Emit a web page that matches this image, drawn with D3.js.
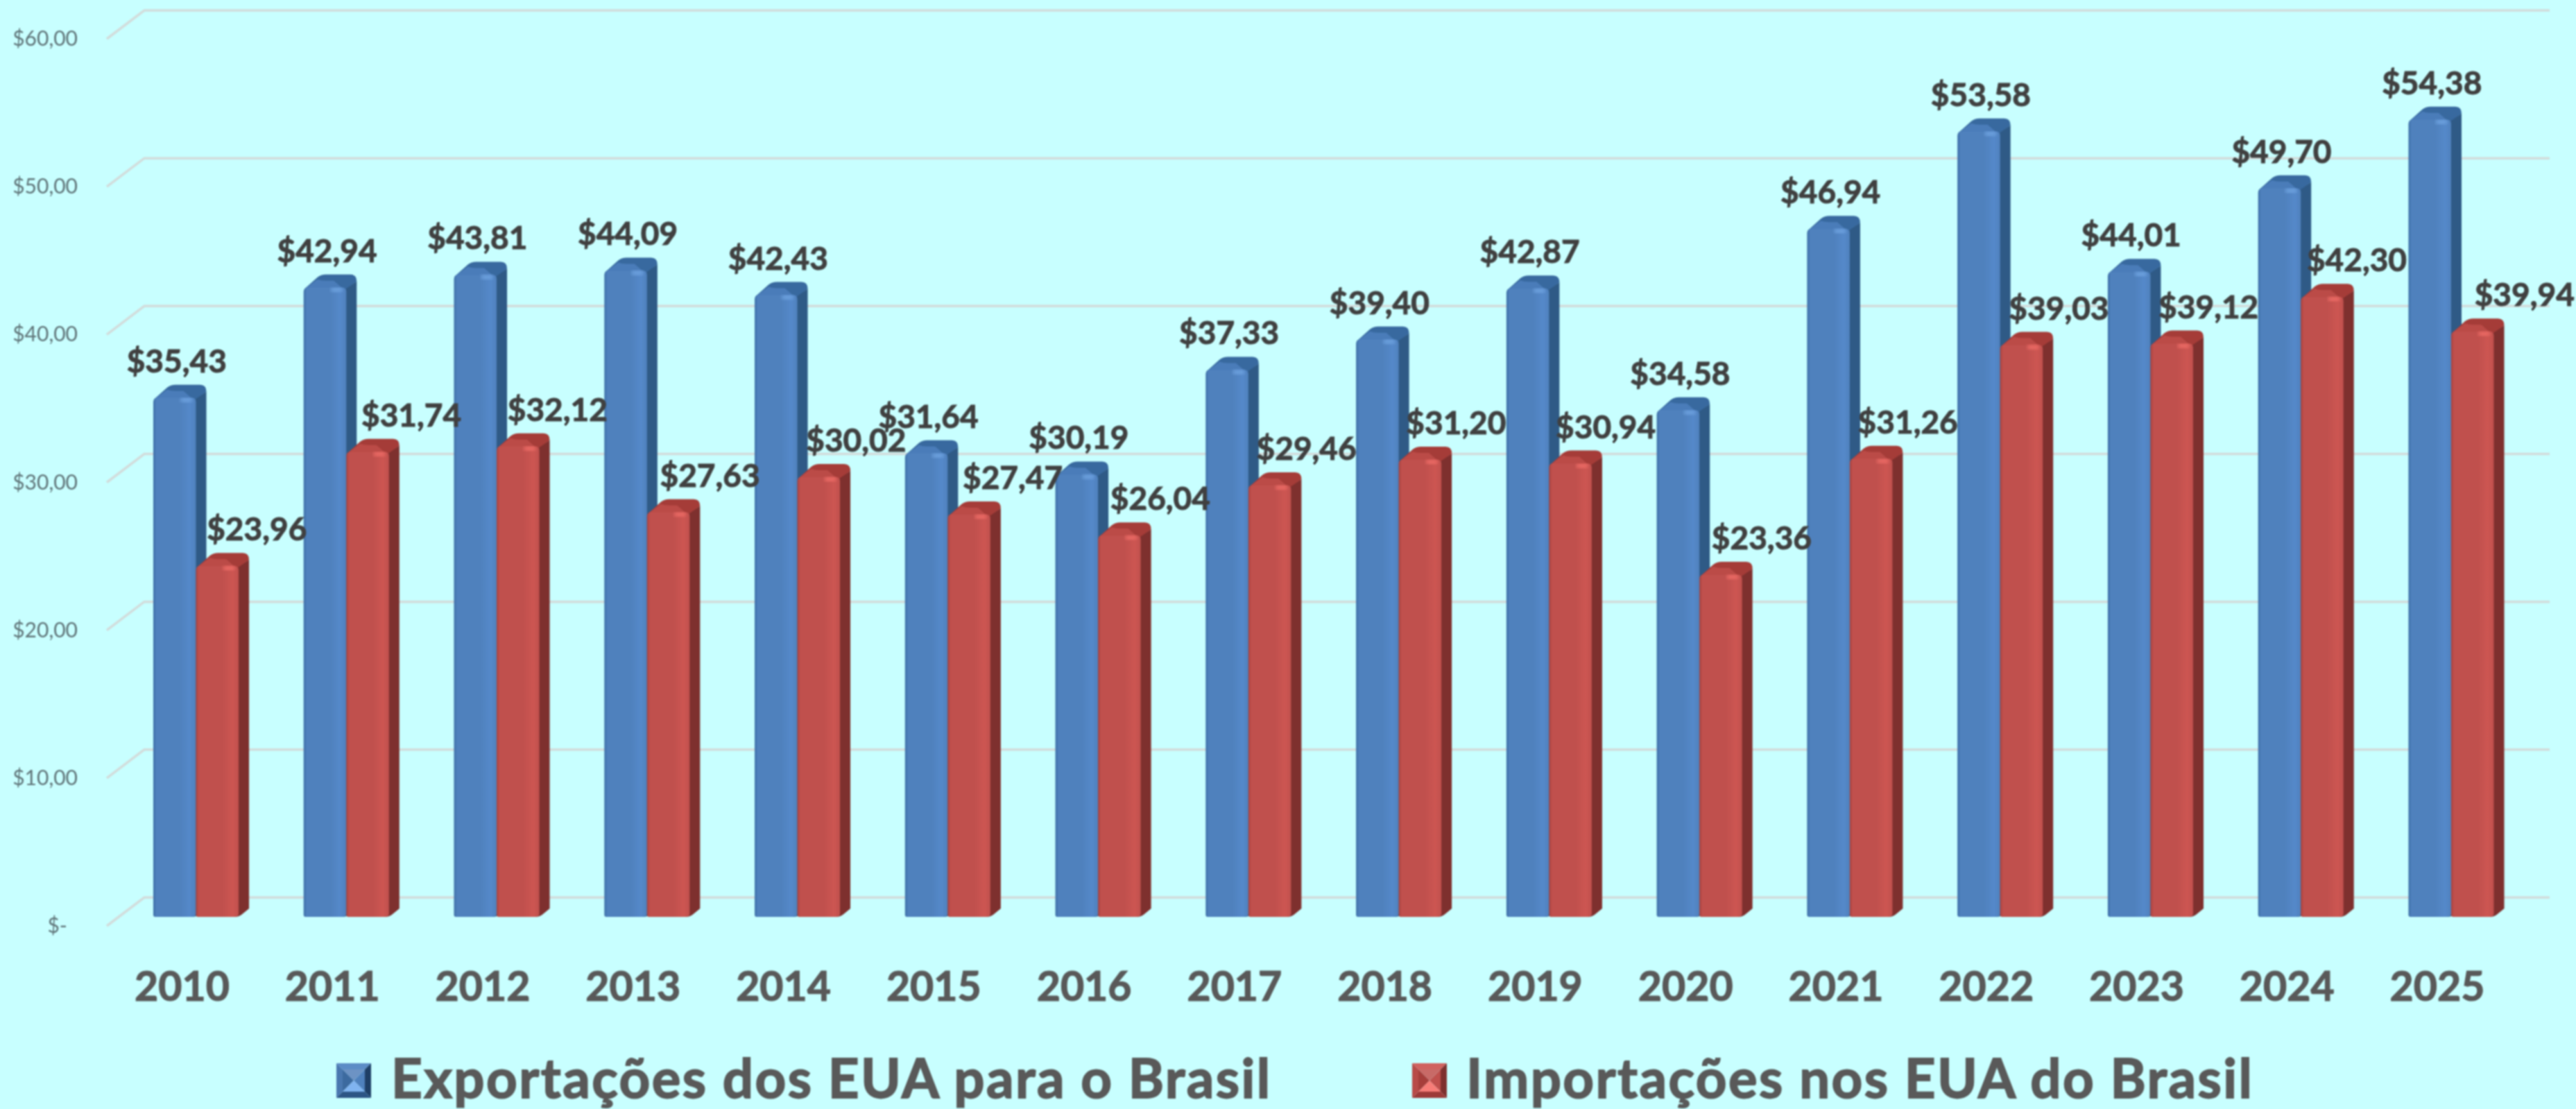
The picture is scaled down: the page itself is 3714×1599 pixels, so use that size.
<!DOCTYPE html>
<html>
<head>
<meta charset="utf-8">
<script src="https://cdn.jsdelivr.net/npm/d3@7"></script>
<style>
  html, body { margin: 0; padding: 0; background: #c8ffff; }
  svg { display: block; font-family: Lato, "Open Sans", sans-serif; filter: blur(0.9px); }
</style>
</head>
<body>
<div id="app"></div>
<script>
const years = ["2010","2011","2012","2013","2014","2015","2016","2017","2018","2019","2020","2021","2022","2023","2024","2025"];
const exportsBR = [35.43,42.94,43.81,44.09,42.43,31.64,30.19,37.33,39.40,42.87,34.58,46.94,53.58,44.01,49.70,54.38];
const importsBR = [23.96,31.74,32.12,27.63,30.02,27.47,26.04,29.46,31.20,30.94,23.36,31.26,39.03,39.12,42.30,39.94];
const seriesNames = ["Exportações dos EUA para o Brasil", "Importações nos EUA do Brasil"];
const yTicks = [0,10,20,30,40,50,60];

// labels of the red bars were pushed right by hand in the original
const redLabelShift = [57,63,57,60,54,63,59,53,52,51,59,53,54,53,50,75];

const width = 3714, height = 1599;
const depth = { x: 54, y: 41 };   // wall offset of the gridlines
const barDepth = { x: 15, y: 18 };

const xScale = d3.scaleBand().domain(years).range([221, 3595.5]).paddingInner(0.4324).paddingOuter(0);
const xInner = d3.scaleBand().domain([0, 1]).range([0, xScale.bandwidth()]);
const yScale = d3.scaleLinear().domain([0, 60]).range([1335, 56]);
const yBar = d3.scaleLinear().domain([0, 60]).range([1322, 53]);

const fmt = (v) => "$" + v.toFixed(2).replace(".", ",");

const palette = [
  { edge: "#3c6ea6", face: "#4f81bd", light: "#5589ca", side: "#2f5a86", top: "#4a7cb9", topBack: "#38699f", shine: "#6ea3e0" },
  { edge: "#a8423f", face: "#c0504d", light: "#cd5652", side: "#7e302e", top: "#bb4b47", topBack: "#a53c38", shine: "#ee6c66" },
];

const svg = d3.select("#app").append("svg").attr("width", width).attr("height", height);
svg.append("rect").attr("width", width).attr("height", height).attr("fill", "#c8ffff");

const defs = svg.append("defs");
palette.forEach((p, i) => {
  const grad = defs.append("linearGradient").attr("id", "face" + i);
  [[0, p.edge], [0.07, p.face], [0.62, p.face], [0.86, p.light], [1, p.face]].forEach(([o, c]) =>
    grad.append("stop").attr("offset", o).attr("stop-color", c));
});
defs.append("filter").attr("id", "soft").append("feGaussianBlur").attr("stdDeviation", 2.5);

// gridlines with the little slant on the left wall
svg.append("g").selectAll("path").data(yTicks).join("path")
  .attr("d", (d) => {
    const y = yScale(d);
    return `M154,${y}L${154 + depth.x},${y - depth.y}H3676`;
  })
  .attr("fill", "none").attr("stroke", "#d2dcdb").attr("stroke-width", 3.5);

const yAxis = svg.append("g").attr("transform", "translate(125,0)")
  .call(d3.axisLeft(yScale).tickValues(yTicks).tickSize(0)
    .tickFormat((d) => (d === 0 ? "$-" : fmt(d))));
yAxis.select(".domain").remove();
yAxis.selectAll("text").attr("font-size", 30).attr("font-family", "Lato").attr("fill", "#5f7478")
  .attr("dx", (d) => (d === 0 ? -25 : -10));

const xAxis = svg.append("g").attr("transform", "translate(-20,0)")
  .call(d3.axisBottom(xScale).tickSize(0));
xAxis.select(".domain").remove();
xAxis.selectAll("text").attr("y", 1443).attr("dy", 0).attr("font-size", 59)
  .attr("font-family", "Lato").attr("font-weight", 700).attr("fill", "#595959")
  .attr("stroke", "#595959").attr("stroke-width", 1.2);

const rows = years.map((year, i) => ({ year, i, values: [exportsBR[i], importsBR[i]] }));

const groups = svg.append("g").selectAll("g").data(rows).join("g")
  .attr("transform", (d) => `translate(${xScale(d.year)},0)`);

const bars = groups.selectAll("g").data((d) => d.values.map((v, s) => ({ v, s }))).join("g");

const frame = (d) => ({
  x0: xInner(d.s),
  x1: xInner(d.s) + xInner.bandwidth(),
  yt: yBar(d.v),
  yb: yBar(0),
});

// top face, dark back strip first and then the lit part
bars.append("path").attr("fill", (d) => palette[d.s].topBack).attr("d", (d) => {
  const { x0, x1, yt } = frame(d);
  return `M${x0 + 1},${yt + 3}L${x0 + 20},${yt - barDepth.y + 4}Q${x0 + 25},${yt - barDepth.y} ${x0 + 32},${yt - barDepth.y}`
    + `H${x1 + 6}Q${x1 + barDepth.x},${yt - barDepth.y} ${x1 + barDepth.x},${yt - 8}L${x1},${yt + 4}Z`;
});
bars.append("path").attr("fill", (d) => palette[d.s].top).attr("d", (d) => {
  const { x0, x1, yt } = frame(d);
  return `M${x0 + 1},${yt + 3}L${x0 + 20},${yt - barDepth.y + 7}Q${x0 + 25},${yt - 9} ${x0 + 32},${yt - 9}H${x1 - 18}L${x1 - 3},${yt + 4}Z`;
});
// side
bars.append("path").attr("fill", (d) => palette[d.s].side).attr("d", (d) => {
  const { x1, yt, yb } = frame(d);
  return `M${x1 - 1},${yt + 3}L${x1 + barDepth.x},${yt - 8}V${yb - 12}L${x1 + 4},${yb - 3}Q${x1},${yb} ${x1 - 6},${yb}Z`;
});
// front
bars.append("path").attr("fill", (d) => `url(#face${d.s})`).attr("d", (d) => {
  const { x0, x1, yt, yb } = frame(d);
  return `M${x0},${yb - 3}V${yt + 7}Q${x0},${yt + 1} ${x0 + 6},${yt + 1}H${x1 - 5}Q${x1},${yt + 1} ${x1},${yt + 7}V${yb - 4}Q${x1 - 1},${yb} ${x1 - 6},${yb}H${x0 + 3}Q${x0},${yb} ${x0},${yb - 3}Z`;
});
// small shine on the front ridge
bars.append("rect").attr("filter", "url(#soft)").attr("fill", (d) => palette[d.s].shine)
  .attr("x", (d) => frame(d).x1 - 22).attr("y", (d) => frame(d).yt + 1)
  .attr("width", 16).attr("height", 6);

// value labels go last so they sit over the neighbouring bars
svg.append("g").selectAll("g").data(rows).join("g")
  .attr("transform", (d) => `translate(${xScale(d.year)},0)`)
  .selectAll("text").data((d) => d.values.map((v, s) => ({ v, s, i: d.i }))).join("text")
  .attr("x", (d) => xInner(d.s) + xInner.bandwidth() / 2 + (d.s === 0 ? 3 : redLabelShift[d.i]))
  .attr("y", (d) => yBar(d.v) - 36)
  .attr("text-anchor", "middle")
  .attr("font-size", 46).attr("font-weight", 700).attr("fill", "#404040")
  .attr("stroke", "#404040").attr("stroke-width", 1)
  .text((d) => fmt(d.v));

// legend
const legendX = d3.scaleOrdinal().domain([0, 1]).range([485, 2036]);
const legend = svg.append("g").selectAll("g").data(seriesNames).join("g")
  .attr("transform", (d, i) => `translate(${legendX(i)},1533)`);
const sw = 50, b = 9;
const bevel = [
  { pts: [[0,0],[sw,0],[sw-b,b],[b,b]], c: ["#5c8cc6", "#d0625f"] },
  { pts: [[0,0],[b,b],[b,sw-b],[0,sw]], c: ["#4a78b0", "#b84b48"] },
  { pts: [[sw,0],[sw,sw],[sw-b,sw-b],[sw-b,b]], c: ["#1f3f66", "#7e302e"] },
  { pts: [[0,sw],[sw,sw],[sw-b,sw-b],[b,sw-b]], c: ["#2d5585", "#9c3a38"] },
  { pts: [[b,b],[sw-b,b],[sw/2,sw/2]], c: ["#6d93c4", "#c86a67"] },
  { pts: [[b,b],[sw/2,sw/2],[b,sw-b]], c: ["#3c6a9f", "#a63e3b"] },
  { pts: [[sw-b,b],[sw-b,sw-b],[sw/2,sw/2]], c: ["#4f81bd", "#c0504d"] },
  { pts: [[b,sw-b],[sw-b,sw-b],[sw/2,sw/2]], c: ["#80b4f0", "#f77d78"] },
];
legend.each(function (d, i) {
  d3.select(this).selectAll("polygon").data(bevel).join("polygon")
    .attr("points", (p) => p.pts.join(" "))
    .attr("fill", (p) => p.c[i]);
});
legend.append("text")
  .attr("x", (d, i) => [79, 78][i]).attr("y", 50)
  .attr("font-size", 78).attr("font-weight", 700).attr("letter-spacing", 2.4).attr("fill", "#595959")
  .attr("stroke", "#595959").attr("stroke-width", 1.8)
  .text((d) => d);
</script>
</body>
</html>
